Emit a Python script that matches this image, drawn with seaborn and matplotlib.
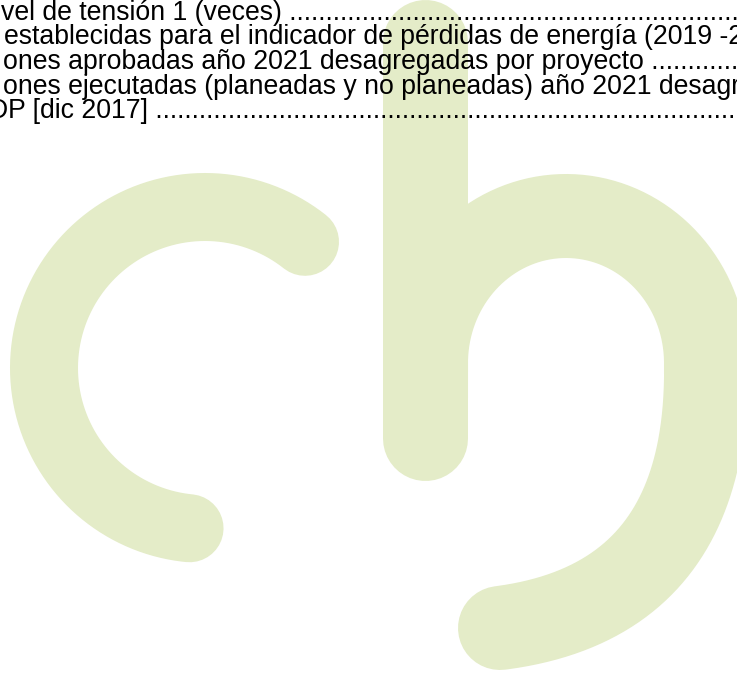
import numpy as np
import pandas as pd
import matplotlib
matplotlib.use("Agg")
import matplotlib.pyplot as plt
import seaborn as sns

# text lines of the page fragment (table of contents entries, cut at the edges)
lines = [
    "vel de tensión 1 (veces) " + "." * 90,
    "establecidas para el indicador de pérdidas de energía (2019 -2021)",
    "ones aprobadas año 2021 desagregadas por proyecto " + "." * 40,
    "ones ejecutadas (planeadas y no planeadas) año 2021 desagregadas",
    "DP [dic 2017] " + "." * 110,
]
line_x = [1, 4, 3, 3, -11]
line_y = [20, 44.5, 69, 93.5, 118]

GREEN = "#e4ecc8"
W, H = 737, 698


def px(w):
    # pixels -> points at 100 dpi
    return w * 72 / 100


sns.set_theme(style="white")
plt.rcParams['font.family'] = ['Liberation Sans', 'DejaVu Sans']

fig = plt.figure(figsize=(W / 100, H / 100), dpi=100)
ax = fig.add_axes([0, 0, 1, 1])

# watermark "c"
t = np.radians(np.linspace(51.6, 264.5, 300))
c_df = pd.DataFrame({"x": 205 + 161 * np.cos(t), "y": 368 - 161 * np.sin(t)})
sns.lineplot(data=c_df, x="x", y="y", sort=False, estimator=None, ax=ax,
             color=GREEN, linewidth=px(68), solid_capstyle="round")

# watermark "h" stem
stem_df = pd.DataFrame({"x": [425.5, 425.5], "y": [42, 438]})
sns.lineplot(data=stem_df, x="x", y="y", sort=False, estimator=None, ax=ax,
             color=GREEN, linewidth=px(85), solid_capstyle="round")

# watermark "h" bowl: elliptic top then a curve down to the tail
t = np.radians(np.linspace(180, 0, 220))
bx = np.r_[426, 566 + 140 * np.cos(t)]
by = np.r_[400, 363 - 147 * np.sin(t)]
s = np.linspace(0, 1, 200)[1:, None]
P = np.array([[706, 363], [708, 505], [655, 608], [500, 628]])
bez = ((1 - s) ** 3 * P[0] + 3 * (1 - s) ** 2 * s * P[1]
       + 3 * (1 - s) * s ** 2 * P[2] + s ** 3 * P[3])
bowl_df = pd.DataFrame({"x": np.r_[bx, bez[:, 0]], "y": np.r_[by, bez[:, 1]]})
sns.lineplot(data=bowl_df, x="x", y="y", sort=False, estimator=None, ax=ax,
             color=GREEN, linewidth=px(84), solid_capstyle="round")

for x, y, s in zip(line_x, line_y, lines):
    ax.text(x, y, s, fontsize=px(26.6), color="black", va="baseline",
            ha="left", zorder=5)

ax.set_xlim(0, W)
ax.set_ylim(H, 0)
ax.axis("off")

fig.savefig("out.png", dpi=100, facecolor="white")
